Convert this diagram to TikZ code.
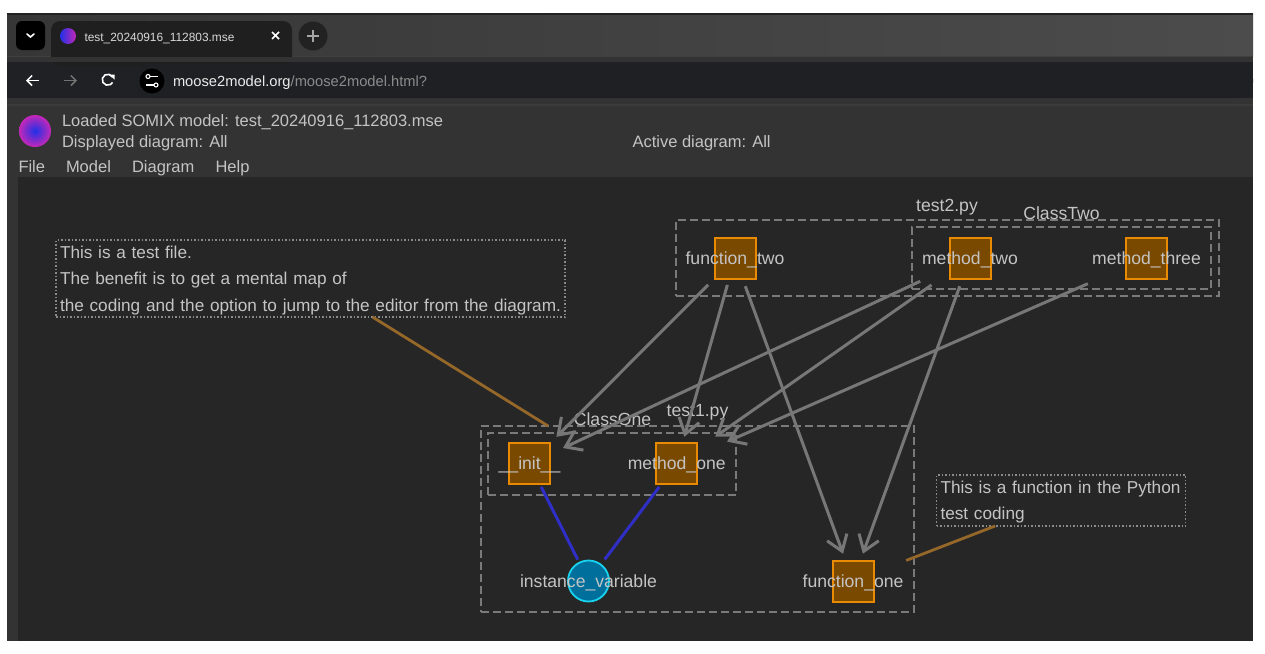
\documentclass[tikz,border=0pt]{standalone}
\usepackage{fontspec}
\setmainfont{Liberation Sans}
\usetikzlibrary{arrows.meta,shadings}
\definecolor{canvasbg}{HTML}{262626}
\definecolor{appbg}{HTML}{333333}
\definecolor{tabbarL}{HTML}{363636}
\definecolor{tabbarR}{HTML}{4C4C4C}
\definecolor{addrbg}{HTML}{202124}
\definecolor{tabbg}{HTML}{1F1F1F}
\definecolor{txt}{HTML}{C4C4C4}
\definecolor{edgegray}{HTML}{777777}
\definecolor{boxgray}{HTML}{7A7A7A}
\definecolor{notegray}{HTML}{8A8A8A}
\definecolor{fnfill}{HTML}{7A4900}
\definecolor{fnline}{HTML}{E98A00}
\definecolor{varfill}{HTML}{006F9C}
\definecolor{varline}{HTML}{19D3EE}
\definecolor{blueedge}{HTML}{2F2FC8}
\definecolor{noteedge}{HTML}{95682A}
\definecolor{darkline}{HTML}{222222}
\definecolor{stripline}{HTML}{3A3A3A}
\definecolor{omnibg}{HTML}{1F2023}
\definecolor{logoblue}{HTML}{2030E8}
\definecolor{logomag}{HTML}{C428B8}
\tikzset{
  x=1pt,y=-1pt,
  every node/.style={inner sep=0pt,outer sep=0pt,font=\fontsize{16.5}{20}\selectfont,text=txt},
  difont/.style={font=\fontsize{17.6}{21}\selectfont},
  groupbox/.style={draw=boxgray,line width=1.6pt,dash pattern=on 8pt off 4pt,rectangle,anchor=north west},
  notebox/.style={draw=notegray,line width=1.3pt,dash pattern=on 1.5pt off 2pt,rectangle,align=left,inner xsep=4pt,font=\fontsize{17.2}{26.5}\selectfont},
  fnnode/.style={draw=fnline,fill=fnfill,line width=2pt,rectangle,minimum size=41pt,label={[text=txt,difont,yshift=-1.5pt]center:#1}},
  varnode/.style={draw=varline,fill=varfill,line width=1.8pt,circle,minimum size=41pt,label={[text=txt,difont,yshift=-1.5pt]center:#1}},
  calledge/.style={draw=edgegray,line width=3pt,-{Straight Barb[length=15pt,width=21pt,line width=3pt]}},
  accessedge/.style={draw=blueedge,line width=3pt},
  noteline/.style={draw=noteedge,line width=2.8pt},
  menutext/.style={anchor=base west},
}
\begin{document}
\begin{tikzpicture}
\useasboundingbox (0,0) rectangle (1265,653);
\fill[white] (0,0) rectangle (1265,653);
% window chrome
\shade[left color=tabbarL,right color=tabbarR] (7,13) rectangle (1253,56);
\fill[darkline] (7,13) rectangle (1253,15);
\fill[black!75] (7,56) rectangle (1253,62);
\fill[addrbg] (7,62) rectangle (1253,98);
\fill[appbg] (7,98) rectangle (1253,641);
\fill[stripline] (7,104) rectangle (1253,106);
\fill[canvasbg] (18,177) rectangle (1253,641);
% tab strip
\fill[black,rounded corners=6pt] (16,21) rectangle (45,50);
\draw[white,line width=1.6pt,line cap=round] (27,34) -- (30.5,37) -- (34,34);
\fill[tabbg,rounded corners=9pt] (51,21) -- (51,66) -- (292,66) -- (292,21) -- cycle;
\fill[black!80] (7,57) rectangle (1253,62);
\shade[left color=logoblue,right color=logomag] (68,36) circle (8);
\node[menutext,font=\fontsize{11.9}{15}\selectfont,text=white!85!black] (tabtitle) at (84.5,41) {test\_20240916\_112803.mse};
\draw[white,line width=1.5pt] (272,32) -- (279,39) (279,32) -- (272,39);
\fill[darkline] (313,36) circle (14.5);
\draw[white!65!black,line width=1.6pt] (307,36) -- (319,36) (313,30) -- (313,42);
% address bar
\draw[white,line width=1.5pt,-{Straight Barb[length=5pt,width=10pt,line width=1.5pt]}] (39,80.5) -- (26,80.5);
\draw[white!45!black,line width=1.5pt,-{Straight Barb[length=5pt,width=10pt,line width=1.5pt]}] (64,80.5) -- (77,80.5);
\draw[white,line width=1.6pt] (112.5,77) arc (-30:-330:5.5);
\fill[white] (109,74.5) -- (114.5,74.5) -- (114.5,79.5) -- cycle;
\fill[omnibg,rounded corners=15pt] (135,64) rectangle (1253,98);
\fill[black] (152,81) circle (12.5);
\draw[white,line width=1.2pt] (150,76.5) -- (158,76.5) (146,85) -- (154,85);
\draw[white,line width=1.1pt] (148,76.5) circle (2) (156,85) circle (2);
\node[menutext,font=\fontsize{14.7}{17}\selectfont,text=white!92!black] (urlhost) at (173,86) {moose2model.org\textcolor{white!55!black}{/moose2model.html?}};
% application header
\shade[inner color=logoblue,outer color=logomag] (35,131) circle (16);
\node[menutext] (loaded) at (62,126.5) {Loaded SOMIX model: test\_20240916\_112803.mse};
\node[menutext] (displayed) at (62,147.5) {Displayed diagram: All};
\node[menutext] (active) at (632.5,147.5) {Active diagram: All};
\node[menutext] (mfile) at (18.5,172) {File};
\node[menutext] (mmodel) at (66,172) {Model};
\node[menutext] (mdiagram) at (132,172) {Diagram};
\node[menutext] (mhelp) at (215.5,172) {Help};
% group boxes
\node[groupbox,minimum width=543pt,minimum height=76pt] (test2) at (676,220) {};
\node[groupbox,minimum width=299pt,minimum height=62pt] (classtwo) at (912,227) {};
\node[groupbox,minimum width=433pt,minimum height=186pt] (test1) at (481,426) {};
\node[groupbox,minimum width=248pt,minimum height=62pt] (classone) at (488,433) {};
\node[difont] (test2lab) at (947,207) {test2.py};
\node[difont] (classtwolab) at (1061.5,213.5) {ClassTwo};
\node[difont] (test1lab) at (697.5,412.5) {test1.py};
\node[difont] (classonelab) at (612.5,419) {ClassOne};
% element centres, so the edges can be drawn first and pass under the nodes
\coordinate (cinit) at (529.5,463.7);
\coordinate (cmone) at (676.7,463.7);
\coordinate (cfone) at (853,581);
\coordinate (cvar) at (588.5,581);
\coordinate (cftwo) at (735,258);
\coordinate (cmtwo) at (970,258);
\coordinate (cmthree) at (1146.5,258);
% edges
\draw[calledge,shorten <=38pt,shorten >=38pt] (cftwo) -- (cinit);
\draw[calledge,shorten <=28pt,shorten >=28pt] (cftwo) -- (cmone);
\draw[calledge,shorten <=30pt,shorten >=29pt] (cftwo) -- (cfone);
\draw[calledge,shorten <=55pt,shorten >=37pt] (cmtwo) -- (cinit);
\draw[calledge,shorten <=47pt,shorten >=47pt] (cmtwo) -- (cmone);
\draw[calledge,shorten <=64pt,shorten >=55pt] (cmthree) -- (cmone);
\draw[calledge,shorten <=30pt,shorten >=29pt] (cmtwo) -- (cfone);
\draw[accessedge,shorten <=26pt,shorten >=24pt] (cinit) -- (cvar);
\draw[accessedge,shorten <=29pt,shorten >=27pt] (cmone) -- (cvar);
% nodes
\node[fnnode=\_\_init\_\_] (init) at (cinit) {};
\node[fnnode=method\_one] (mone) at (cmone) {};
\node[fnnode=function\_one] (fone) at (cfone) {};
\node[varnode=instance\_variable] (ivar) at (cvar) {};
\node[fnnode=function\_two] (ftwo) at (cftwo) {};
\node[fnnode=method\_two] (mtwo) at (cmtwo) {};
\node[fnnode=method\_three] (mthree) at (cmthree) {};
% notes
\node[notebox,minimum width=509pt,minimum height=77pt,text width=501pt] (note1) at (310.5,278.5) {\rule{0pt}{16pt}This is a test file.\\The benefit is to get a mental map of\\the coding and the option to jump to the editor from the diagram.};
\node[notebox,minimum width=249pt,minimum height=51pt,text width=241pt] (note2) at (1061,500.5) {\rule{0pt}{16pt}This is a function in the Python\\test coding};
\draw[noteline] (note1) -- (test1);
\draw[noteline,shorten >=57pt] (note2) -- (cfone);
\end{tikzpicture}
\end{document}
